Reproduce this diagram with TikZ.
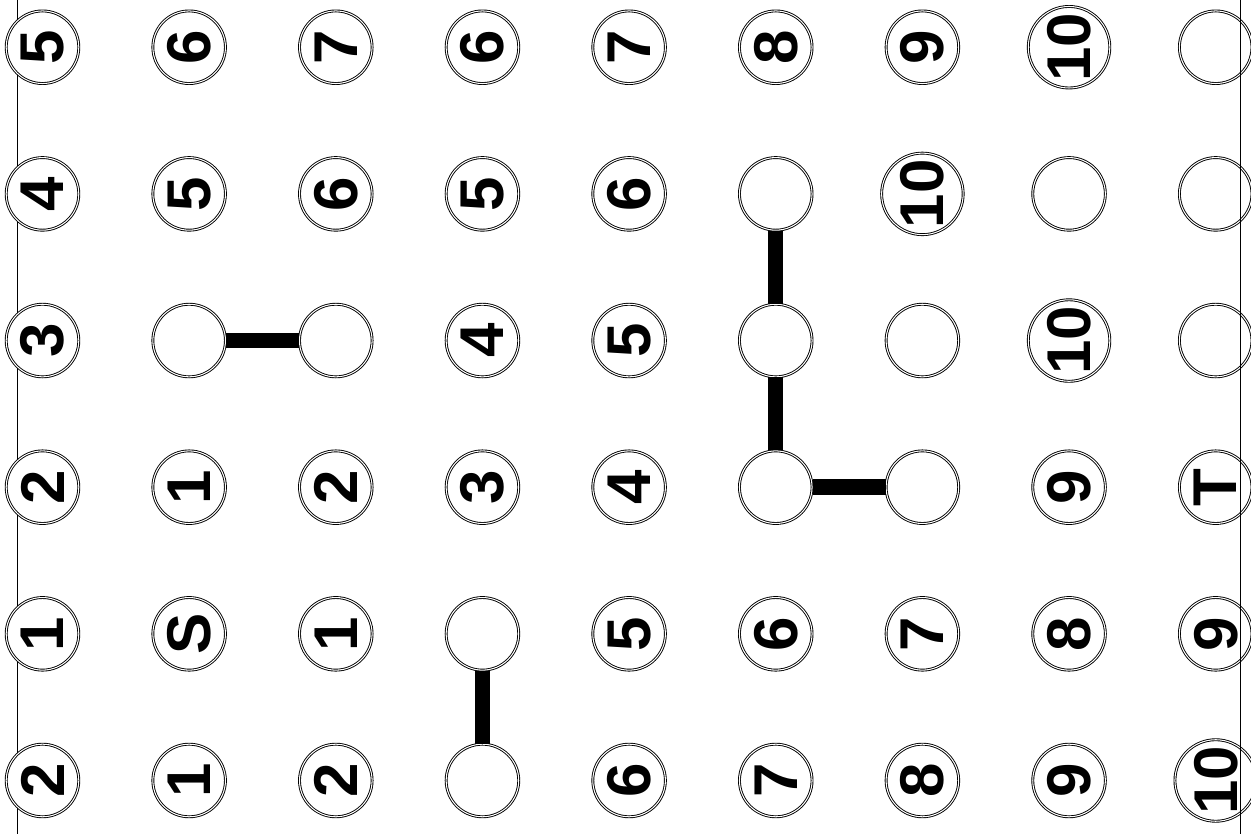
\documentclass[tikz,border=0pt]{standalone}
\usepackage{fontspec}
\setmainfont{Liberation Sans}
\begin{document}
\begin{tikzpicture}[x=2cm,y=2cm,
  cell/.style={circle,draw=black,line width=0.35pt,double=white,double distance=0.4pt,
    fill=white,minimum size=0.99cm,inner sep=0pt,rotate=90,
    font=\fontsize{24}{28}\selectfont\bfseries},
  bar/.style={line width=6pt,draw=black},
  wall/.style={line width=0.6pt,draw=black}
]
\clip (-0.2898,-0.3648) rectangle (8.2407,5.3222);
\draw[wall] (-0.1718,-0.5) -- (-0.1718,5.5);
% grid of cells, bottom row first
\foreach \row [count=\j from 0] in {
  {2,1,2,{},6,7,8,9,10},
  {1,S,1,{},5,6,7,8,9},
  {2,1,2,3,4,{},{},9,T},
  {3,{},{},4,5,{},{},10,{}},
  {4,5,6,5,6,{},10,{},{}},
  {5,6,7,6,7,8,9,10,{}}}{
  \foreach \lab [count=\i from 0] in \row
    \node[cell] (c-\i-\j) at (\i,\j) {\lab};
}
\draw[bar] (c-1-3) -- (c-2-3);
\draw[bar] (c-3-1) -- (c-3-0);
\draw[bar] (c-5-4) -- (c-5-3) -- (c-5-2) -- (c-6-2);
\draw[wall] (8.1705,-0.5) -- (8.1705,5.5);
\end{tikzpicture}
\end{document}
